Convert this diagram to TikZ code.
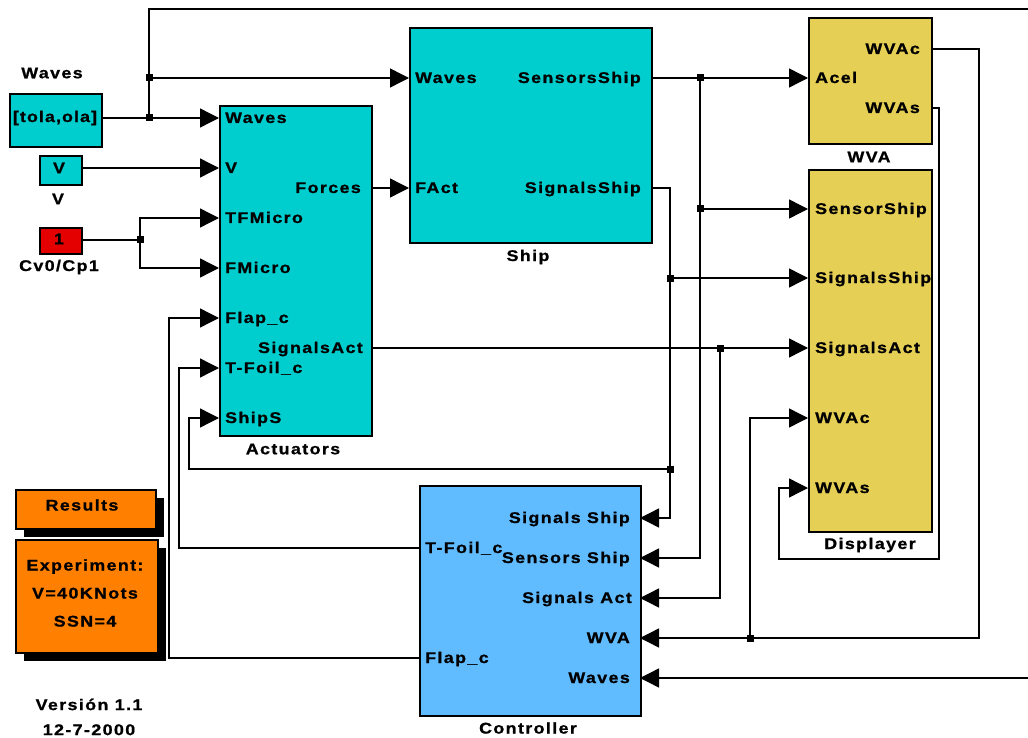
\documentclass[tikz,border=0pt]{standalone}
\usepackage{fontspec}
\setmainfont{Liberation Sans}[LetterSpace=9,FakeStretch=1.15,BoldFeatures={FakeBold=1}]
\usetikzlibrary{arrows.meta,shadows}
\definecolor{simcyan}{RGB}{0,206,206}
\definecolor{simyellow}{RGB}{230,207,85}
\definecolor{simblue}{RGB}{96,187,255}
\definecolor{simred}{RGB}{228,0,0}
\definecolor{simorange}{RGB}{255,128,0}
\begin{document}
\begin{tikzpicture}[x=1pt,y=-1pt,
  font=\fontsize{15.5}{28}\selectfont\bfseries,
  blk/.style={draw=black,line width=1.6pt,inner sep=0pt,anchor=north west},
  wire/.style={line width=1.4pt},
  sig/.style={wire,-{Triangle[length=19pt,width=19pt]}},
  jn/.style={fill=black,inner sep=0pt,minimum size=7pt},
  pin/.style={anchor=base west,inner sep=0pt},
  pout/.style={anchor=base east,inner sep=0pt},
  lbl/.style={inner sep=0pt},
  shd/.style={drop shadow={shadow xshift=8pt,shadow yshift=-8pt,fill=black,opacity=1}}]
\useasboundingbox (0,0) rectangle (1028,738);
\clip (0,0) rectangle (1028,738);

% ---------- source blocks ----------
\node[blk,fill=simcyan,minimum width=92pt,minimum height=53pt] (wsrc) at (9,93) {};
\node[lbl] (wsrct) at (55,118) {\addfontfeature{LetterSpace=7}[tola,ola]};
\node[lbl] (wsrcl) at (52,73) {Waves};
\node[blk,fill=simcyan,minimum width=42pt,minimum height=29pt] (vsrc) at (39,155) {};
\node[lbl] (vsrct) at (59,168) {V};
\node[lbl] (vsrcl) at (58,199) {V};
\node[blk,fill=simred,minimum width=42pt,minimum height=26pt] (csrc) at (39,227) {};
\node[lbl] (csrct) at (59,239) {1};
\node[lbl] (csrcl) at (59,267) {Cv0/Cp1};

% ---------- Actuators ----------
\node[blk,fill=simcyan,minimum width=152pt,minimum height=330pt] (act) at (219,105) {};
\node[lbl] (actl) at (293,449) {Actuators};
\node[pin] (acti1) at (225,123) {Waves};
\node[pin] (acti2) at (225,173) {V};
\node[pin] (acti3) at (225,223) {TFMicro};
\node[pin] (acti4) at (225,273) {FMicro};
\node[pin] (acti5) at (225,323) {Flap\_c};
\node[pin] (acti6) at (225,373) {T-Foil\_c};
\node[pin] (acti7) at (225,423) {ShipS};
\node[pout] (acto1) at (361,193) {Forces};
\node[pout] (acto2) at (363,353) {SignalsAct};

% ---------- Ship ----------
\node[blk,fill=simcyan,minimum width=242pt,minimum height=215pt] (ship) at (409,27) {};
\node[lbl] (shipl) at (528,257) {Ship};
\node[pin] (shipi1) at (415,83) {Waves};
\node[pin] (shipi2) at (415,193) {FAct};
\node[pout] (shipo1) at (641,83) {SensorsShip};
\node[pout] (shipo2) at (641,193) {SignalsShip};

% ---------- WVA ----------
\node[blk,fill=simyellow,minimum width=123pt,minimum height=126pt] (wva) at (808,17) {};
\node[lbl] (wval) at (869,157) {WVA};
\node[pin] (wvai) at (815,83) {Acel};
\node[pout] (wvao1) at (920,54) {WVAc};
\node[pout] (wvao2) at (920,113) {WVAs};

% ---------- Displayer ----------
\node[blk,fill=simyellow,minimum width=123pt,minimum height=362pt] (disp) at (808,169) {};
\node[lbl] (displ) at (870,545) {Displayer};
\node[pin] (dispi1) at (815,214) {SensorShip};
\node[pin] (dispi2) at (815,283) {SignalsShip};
\node[pin] (dispi3) at (815,353) {SignalsAct};
\node[pin] (dispi4) at (815,423) {WVAc};
\node[pin] (dispi5) at (815,493) {WVAs};

% ---------- Controller ----------
\node[blk,fill=simblue,minimum width=221pt,minimum height=230pt] (ctrl) at (419,485) {};
\node[lbl] (ctrll) at (528,728) {Controller};
\node[pout] (ctrli1) at (630,523) {Signals Ship};
\node[pout] (ctrli2) at (630,563) {Sensors Ship};
\node[pout] (ctrli3) at (632,603) {Signals Act};
\node[pout] (ctrli4) at (630,643) {WVA};
\node[pout] (ctrli5) at (630,683) {Waves};
\node[pin] (ctrlo1) at (425,553) {T-Foil\_c};
\node[pin] (ctrlo2) at (425,663) {Flap\_c};

% ---------- annotation blocks ----------
\node[blk,shd,fill=simorange,minimum width=140pt,minimum height=39pt] (res) at (15,489) {};
\node[lbl] (rest) at (82,505) {Results};
\node[blk,shd,fill=simorange,minimum width=142pt,minimum height=113pt] (exper) at (15,539) {};
\node[lbl,align=center] (expert) at (85,593) {Experiment:\\V=40KNots\\SSN=4};
\node[lbl,align=center,font=\fontsize{15.5}{25}\selectfont\bfseries] (ver) at (89,717) {Versión 1.1\\12-7-2000};

% ---------- ports ----------
\coordinate (src-w) at (101,118);
\coordinate (src-v) at (81,168);
\coordinate (src-c) at (81,240);
\coordinate (act-w) at (219,118);
\coordinate (act-v) at (219,168);
\coordinate (act-tf) at (219,218);
\coordinate (act-fm) at (219,268);
\coordinate (act-fl) at (219,318);
\coordinate (act-tfo) at (219,368);
\coordinate (act-sh) at (219,418);
\coordinate (act-forces) at (371,188);
\coordinate (act-sa) at (371,348);
\coordinate (ship-w) at (409,78);
\coordinate (ship-f) at (409,188);
\coordinate (ship-ss) at (651,78);
\coordinate (ship-sig) at (651,188);
\coordinate (wva-acel) at (808,78);
\coordinate (wva-c) at (931,49);
\coordinate (wva-s) at (931,108);
\coordinate (d-ss) at (808,209);
\coordinate (d-sig) at (808,278);
\coordinate (d-sa) at (808,348);
\coordinate (d-c) at (808,418);
\coordinate (d-s) at (808,488);
\coordinate (c-sig) at (640,518);
\coordinate (c-sen) at (640,558);
\coordinate (c-sa) at (640,598);
\coordinate (c-wva) at (640,638);
\coordinate (c-wav) at (640,678);
\coordinate (c-tf) at (419,548);
\coordinate (c-fl) at (419,658);

% ---------- junctions and bends ----------
\coordinate (jw1) at (149,118);
\coordinate (jw2) at (149,78);
\coordinate (offtop) at (1040,9);
\coordinate (jc) at (140,240);
\coordinate (js1) at (700,78);
\coordinate (js2) at (700,209);
\coordinate (jg1) at (670,278);
\coordinate (jg2) at (670,469);
\coordinate (shipsc) at (189,469);
\coordinate (ja) at (720,348);
\coordinate (jv) at (750,638);
\coordinate (wvacor) at (979,638);
\coordinate (wvascor1) at (939,559);
\coordinate (wvascor2) at (779,559);
\coordinate (tfcor) at (179,548);
\coordinate (flcor) at (169,658);

% ---------- wires ----------
\draw[sig] (src-w) -- (act-w);
\draw[wire] (jw1) -- (jw2);
\draw[sig] (jw2) -- (ship-w);
\draw[sig] (jw2) |- (offtop) |- (c-wav);
\draw[sig] (src-v) -- (act-v);
\draw[wire] (src-c) -- (jc);
\draw[sig] (jc) |- (act-tf);
\draw[sig] (jc) |- (act-fm);
\draw[sig] (act-forces) -- (ship-f);
\draw[wire] (ship-ss) -- (js1);
\draw[sig] (js1) -- (wva-acel);
\draw[wire] (js1) -- (js2);
\draw[sig] (js2) -- (d-ss);
\draw[sig] (js2) |- (c-sen);
\draw[wire] (ship-sig) -| (jg1);
\draw[sig] (jg1) -- (d-sig);
\draw[wire] (jg1) -- (jg2);
\draw[sig] (jg2) -- (shipsc) |- (act-sh);
\draw[sig] (jg2) |- (c-sig);
\draw[wire] (act-sa) -- (ja);
\draw[sig] (ja) -- (d-sa);
\draw[sig] (ja) |- (c-sa);
\draw[wire] (wva-c) -| (wvacor) -- (jv);
\draw[sig] (jv) -- (c-wva);
\draw[sig] (jv) |- (d-c);
\draw[sig] (wva-s) -| (wvascor1) -- (wvascor2) |- (d-s);
\draw[sig] (c-tf) -- (tfcor) |- (act-tfo);
\draw[sig] (c-fl) -- (flcor) |- (act-fl);

% ---------- junction dots ----------
\node[jn] (jw1d) at (jw1) {};
\node[jn] (jw2d) at (jw2) {};
\node[jn] (jcd) at (jc) {};
\node[jn] (js1d) at (js1) {};
\node[jn] (js2d) at (js2) {};
\node[jn] (jg1d) at (jg1) {};
\node[jn] (jg2d) at (jg2) {};
\node[jn] (jad) at (ja) {};
\node[jn] (jvd) at (jv) {};
\end{tikzpicture}
\end{document}
